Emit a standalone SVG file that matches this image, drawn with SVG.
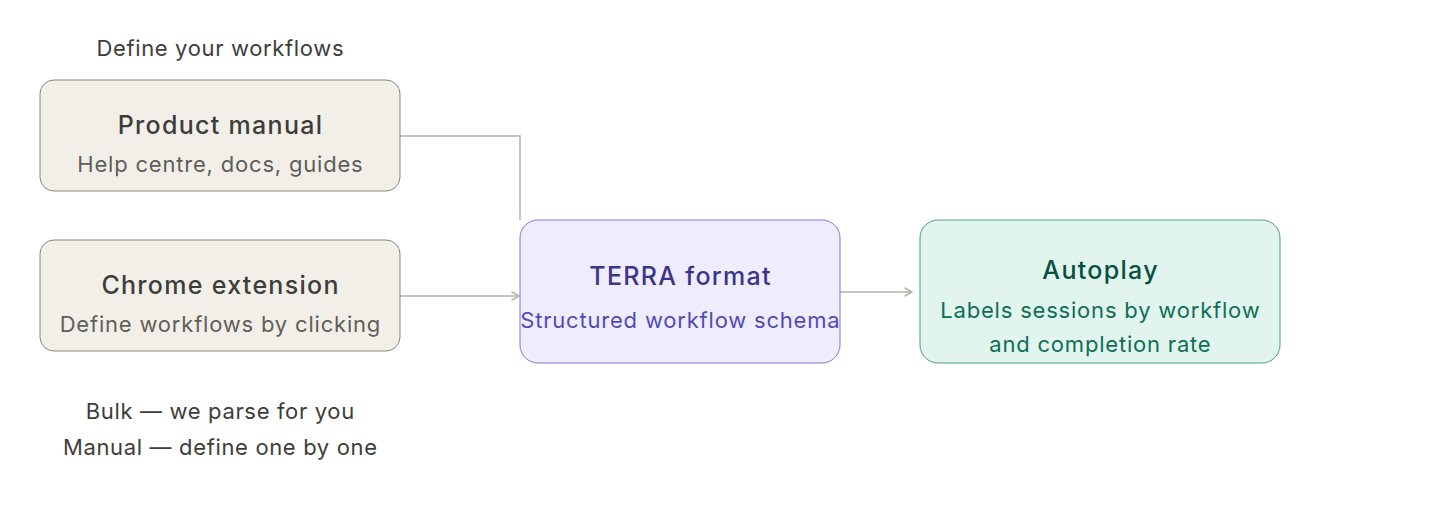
<svg xmlns="http://www.w3.org/2000/svg" width="1440" height="520" viewBox="0 0 1440 520">
<defs>
<marker id="arr" viewBox="0 0 10 10" refX="8" refY="5" markerWidth="10" markerHeight="10" markerUnits="userSpaceOnUse" orient="auto">
<path d="M1 1 L8 5 L1 9" fill="none" stroke="#b4b2a9" stroke-width="1.5" stroke-linecap="round" stroke-linejoin="round"/>
</marker>
<style>
text{font-family:Inter,"Noto Sans","Liberation Sans",sans-serif;text-anchor:middle}
.lbl{font-size:22px;fill:#3d3d3a;letter-spacing:0.65px}
.t{font-size:25px;font-weight:500;letter-spacing:1.3px}
.s{font-size:22px;letter-spacing:0.8px}
.gray rect{fill:#f1efe8;stroke:#888780;stroke-width:1}
.gray .t{fill:#3d3d3a}
.gray .s{fill:#5f5e5a}
.purple rect{fill:#eeedfe;stroke:#7f77dd;stroke-width:1}
.purple .t{fill:#3c3489}
.purple .s{fill:#534ab7}
.green rect{fill:#e1f5ee;stroke:#4f9e86;stroke-width:1}
.green .t{fill:#085041}
.green .s{fill:#0f6e56}
.conn path{fill:none;stroke:#b4b2a9;stroke-width:1.5}
</style>
</defs>
<text class="lbl" x="220.3" y="56">Define your workflows</text>
<g class="conn" id="connectors">
<path d="M400 136 H520 V220"/>
<path d="M400 296 H519" marker-end="url(#arr)"/>
<path d="M840 292 H912" marker-end="url(#arr)"/>
</g>
<g id="product-manual" class="gray">
<rect x="40" y="80" width="360" height="111" rx="14"/>
<text class="t" x="220.6" y="134">Product manual</text>
<text class="s" x="220.4" y="172">Help centre, docs, guides</text>
</g>
<g id="chrome-extension" class="gray">
<rect x="40" y="240" width="360" height="111" rx="14"/>
<text class="t" x="220.6" y="294">Chrome extension</text>
<text class="s" x="220.4" y="332">Define workflows by clicking</text>
</g>
<g id="terra" class="purple">
<rect x="520" y="220" width="320" height="143" rx="18"/>
<text class="t" x="680.6" y="285">TERRA format</text>
<text class="s" x="680.4" y="328">Structured workflow schema</text>
</g>
<g id="autoplay" class="green">
<rect x="920" y="220" width="360" height="143" rx="18"/>
<text class="t" x="1100.6" y="279">Autoplay</text>
<text class="s" x="1100.4" y="318">Labels sessions by workflow</text>
<text class="s" x="1100.4" y="352">and completion rate</text>
</g>
<text class="lbl" x="220.3" y="419">Bulk — we parse for you</text>
<text class="lbl" x="220.3" y="455">Manual — define one by one</text>
</svg>
